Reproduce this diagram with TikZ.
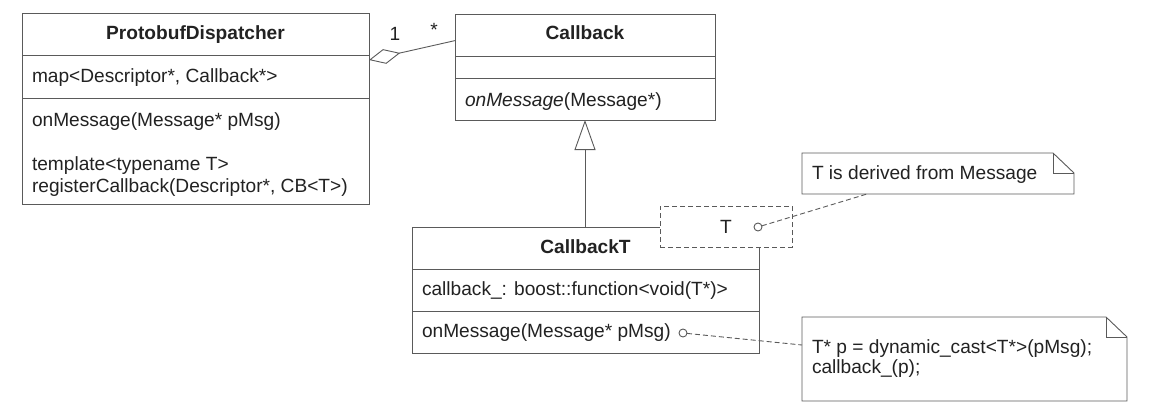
\documentclass[tikz,border=0pt]{standalone}
\usepackage{fontspec}
\setmainfont{Liberation Sans}
\usetikzlibrary{arrows.meta}
\definecolor{ln}{HTML}{5A5A5A}
\definecolor{tx}{HTML}{222222}
\begin{document}
\begin{tikzpicture}[x=1bp,y=-1bp,
  every node/.style={inner sep=0pt, outer sep=0pt, text=tx},
  line/.style={draw=ln, line width=0.9bp},
  umlbox/.style={line, rectangle, anchor=north west, fill=white},
  txt/.style={anchor=base west, font=\fontsize{19.2}{22}\selectfont},
  ttl/.style={anchor=base, font=\fontsize{19.2}{22}\selectfont\bfseries},
  dsh/.style={line, dash pattern=on 5bp off 3bp},
  port/.style={line, circle, minimum size=8bp, fill=white},
  notebox/.style={rectangle, anchor=north west}
]
\useasboundingbox (0,0) rectangle (1170,411);

% ProtobufDispatcher
\node[umlbox, minimum width=347bp, minimum height=191bp] (pd) at (22,13) {};
\draw[line] (22,55) -- (369,55);
\draw[line] (22,98) -- (369,98);
\node[ttl] (pdname) at (195.5,39.5) {ProtobufDispatcher};
\node[txt] (pdattr) at (32,82) {map<Descriptor*, Callback*>};
\node[txt] (pdop1) at (32,126) {onMessage(Message* pMsg)};
\node[txt] (pdop2) at (32,170) {template<typename T>};
\node[txt] (pdop3) at (32,192) {registerCallback(Descriptor*, CB<T>)};

% Callback
\node[umlbox, minimum width=260bp, minimum height=106bp] (cb) at (455,14) {};
\draw[line] (455,56) -- (715,56);
\draw[line] (455,78) -- (715,78);
\node[ttl] (cbname) at (585,39.5) {Callback};
\node[txt] (cbop) at (465,106) {\itshape onMessage\upshape(Message*)};

% CallbackT
\node[umlbox, minimum width=347bp, minimum height=126bp] (cbt) at (412,227) {};
\draw[line] (412,269) -- (759,269);
\draw[line] (412,311) -- (759,311);
\node[ttl] (cbtname) at (585.5,253) {CallbackT};
\node[txt] (cbtattr) at (422,295) {callback\_: boost::function<void(T*)>};
\node[txt] (cbtop) at (422,337) {onMessage(Message* pMsg)};

% template parameter box
\node[dsh, rectangle, anchor=north west, fill=white, minimum width=132bp, minimum height=41bp] (tp) at (660,206) {};
\node[txt] (tpname) at (720,233) {T};
\node[port] (tport) at (758,227) {};

% aggregation
\coordinate (aggA) at (369,60);
\coordinate (aggB) at (455,40.6);
\draw[line, {Diamond[open, fill=white, length=32bp, width=15bp]}-] (aggA) -- (aggB);
\node[anchor=base, font=\fontsize{19.2}{22}\selectfont] (m1) at (395,40) {1};
\node[anchor=base, font=\fontsize{19.2}{22}\selectfont] (m2) at (434,36) {*};

% generalization
\draw[line, -{Triangle[open, fill=white, length=30bp, width=21bp]}] (cbt.north -| cb.south) -- (cb.south);

% notes
\node[notebox, minimum width=272bp, minimum height=41bp] (n1) at (802,153) {};
\draw[line, fill=white] (n1.south west) -- (n1.north west) -- ([xshift=-21bp]n1.north east) -- ([yshift=-20bp]n1.north east) -- (n1.south east) -- cycle;
\draw[line] ([xshift=-21bp]n1.north east) -- ++(0,20) -- ++(21,0);
\node[txt] (n1t) at (812,179) {T is derived from Message};

\node[notebox, minimum width=325bp, minimum height=84bp] (n2) at (802,317) {};
\draw[line, fill=white] (n2.south west) -- (n2.north west) -- ([xshift=-21bp]n2.north east) -- ([yshift=-20bp]n2.north east) -- (n2.south east) -- cycle;
\draw[line] ([xshift=-21bp]n2.north east) -- ++(0,20) -- ++(21,0);
\node[txt] (n2t1) at (812,353) {T* p = dynamic\_cast<T*>(pMsg);};
\node[txt] (n2t2) at (812,373) {callback\_(p);};

% note connectors
\node[port] (oport) at (683,333) {};
\coordinate (n1c) at (867,194);
\coordinate (n2c) at (802,345);
\draw[dsh] (tport) -- (n1c);
\draw[dsh] (oport) -- (n2c);
\end{tikzpicture}
\end{document}
